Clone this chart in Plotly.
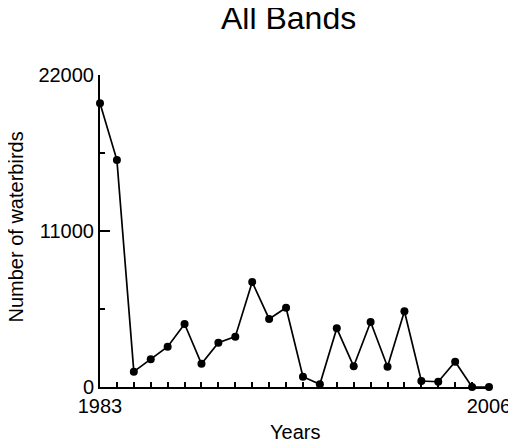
import plotly.graph_objects as go

years = list(range(1983, 2007))
waterbirds = [20000, 16000, 1080, 1950, 2840, 4440, 1640, 3120, 3550, 7400, 4800, 5590,
              730, 190, 4140, 1460, 4580, 1430, 5340, 420, 370, 1780, 0, 0]
y_ticks = [0, 11000, 22000]
y_minor = [5500, 16500]
x_ticks = [1983, 2006]

font = "Liberation Sans, Arial, sans-serif"

fig = go.Figure()
fig.add_trace(go.Scatter(
    x=years, y=waterbirds, mode="lines+markers",
    line=dict(color="black", width=1.7),
    marker=dict(color="black", size=8),
    cliponaxis=False, showlegend=False,
))

fig.update_layout(
    width=516, height=442,
    margin=dict(l=92, r=35, t=67, b=63, autoexpand=False),
    paper_bgcolor="white", plot_bgcolor="white",
    font=dict(family=font, size=20, color="black"),
    xaxis=dict(
        range=[1983, 2006], tickvals=x_ticks, ticktext=[str(v) for v in x_ticks],
        ticks="inside", ticklen=10, tickwidth=1.5, tickcolor="black",
        showline=True, linecolor="black", linewidth=2, showgrid=False, zeroline=False,
        minor=dict(dtick=1, tick0=1983, ticks="inside", ticklen=5, tickwidth=1.5,
                   tickcolor="black", showgrid=False),
        tickfont=dict(size=20), automargin=False,
    ),
    yaxis=dict(
        range=[0, 22000], tickvals=y_ticks, ticktext=[str(v) for v in y_ticks],
        ticks="inside", ticklen=10, tickwidth=1.5, tickcolor="black",
        showline=True, linecolor="black", linewidth=2, showgrid=False, zeroline=False,
        minor=dict(tickvals=y_minor, ticks="inside", ticklen=5, tickwidth=1.5,
                   tickcolor="black", showgrid=False),
        tickfont=dict(size=20), automargin=False,
    ),
    annotations=[
        dict(text="All Bands", xref="paper", yref="paper", x=(288 - 100) / 389, y=1 + (75 - 17.5) / 312,
             xanchor="center", yanchor="middle", showarrow=False, font=dict(size=32)),
        dict(text="Years", xref="paper", yref="paper", x=0.5, y=-(431.5 - 387) / 312,
             xanchor="center", yanchor="middle", showarrow=False, font=dict(size=20)),
        dict(text="Number of waterbirds", xref="paper", yref="paper", x=-(100 - 15) / 389,
             y=(387 - 227.5) / 312, xanchor="center", yanchor="middle", textangle=-90,
             showarrow=False, font=dict(size=20)),
    ],
)

fig.write_html("out.html")
